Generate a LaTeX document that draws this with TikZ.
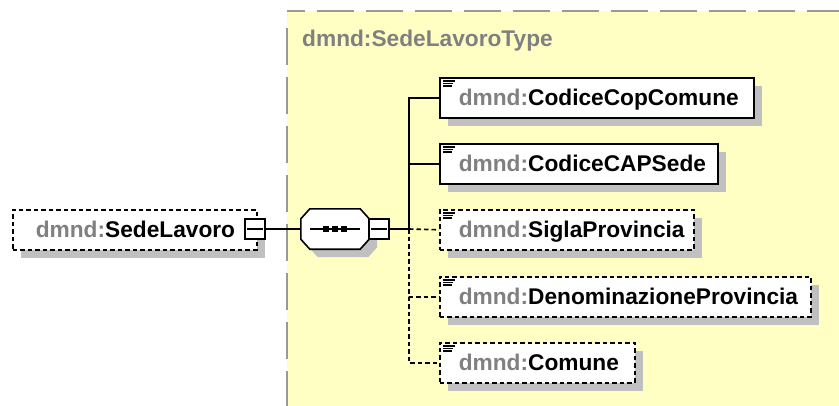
\documentclass[tikz,border=0pt]{standalone}
\usepackage{fontspec}
\setmainfont{Liberation Sans}
\usetikzlibrary{shadows,calc}
\definecolor{bgyellow}{RGB}{255,255,196}
\definecolor{framegray}{RGB}{153,153,153}
\definecolor{shadowgray}{RGB}{192,192,192}
\definecolor{prefixgray}{RGB}{128,128,128}
\newcommand\pfx{{\color{prefixgray}dmnd:}}
\newcommand\el[1]{\mbox{\pfx#1}}
\newcommand\docicon[1]{%
  \draw[iconline] ($(#1.north west)+(4,4)$) -- +(12,0);
  \draw[iconline] ($(#1.north west)+(4,6.5)$) -- +(10,0);
  \draw[iconline] ($(#1.north west)+(4,9)$) -- +(9,0);}
% octagon outline around node seq, offset by (#1,#2)
\newcommand\octpath[2]{%
  ($(seq.north west)+(9+#1,#2)$) -- ($(seq.north east)+(-9+#1,#2)$) --
  ($(seq.north east)+(#1,10+#2)$) -- ($(seq.south east)+(#1,-10+#2)$) --
  ($(seq.south east)+(-9+#1,#2)$) -- ($(seq.south west)+(9+#1,#2)$) --
  ($(seq.south west)+(#1,-10+#2)$) -- ($(seq.north west)+(#1,10+#2)$) -- cycle}
\begin{document}
\begin{tikzpicture}[x=1pt,y=-1pt,
  elembase/.style={rectangle, draw=black, line width=1.6pt, fill=white,
    anchor=north west, minimum height=40pt, inner ysep=0pt, inner xsep=19pt,
    text height=19pt, text depth=3pt, align=left,
    font=\fontsize{22.7}{26}\selectfont\bfseries,
    drop shadow={shadow xshift=8pt, shadow yshift=-8pt, fill=shadowgray, opacity=1}},
  mandatory/.style={elembase},
  optdash/.style={dash pattern=on 4.5pt off 3pt},
  optional/.style={elembase, optdash},
  minusbox/.style={rectangle, draw=black, line width=1.3pt, fill=white,
    minimum size=20pt, inner sep=0pt},
  seqbox/.style={rectangle, draw=none, minimum width=68pt, minimum height=40pt, inner sep=0pt},
  conn/.style={line width=1.6pt, draw=black},
  iconline/.style={line width=1.1pt, draw=black},
  minusline/.style={line width=1.3pt, draw=black},
  frame/.style={line width=2pt, draw=framegray, dash pattern=on 37pt off 12pt}
]
\useasboundingbox (0,0) rectangle (839,405);
% complex type frame
\fill[bgyellow] (287,11) rectangle (850,420);
\draw[frame, dash phase=19pt] (287,11) -- (850,11);
\draw[frame, dash phase=37pt] (287,16) -- (287,420);
\node[anchor=base west, inner sep=0pt, text=prefixgray,
  font=\fontsize{22.7}{26}\selectfont\bfseries] (title) at (302,46) {dmnd:SedeLavoroType};

% root element
\node[optional, inner xsep=23pt, text width=198pt] (root) at (12,209) {\el{SedeLavoro}};
\node[minusbox] (m0) at (255,229) {};
\draw[minusline] ([xshift=3pt]m0.west) -- ([xshift=-3pt]m0.east);

% sequence compositor
\node[seqbox] (seq) at (335,229) {};
\fill[shadowgray] \octpath{8}{8};
\draw[line width=1.6pt, fill=white] \octpath{0}{0};
\draw[line width=1.5pt] ([xshift=9pt]seq.west) -- ([xshift=-9pt]seq.east);
\foreach \dx in {-9,0,9}
  \fill ($(seq.center)+(\dx,0)$) +(-2.6,-2.6) rectangle +(2.6,2.6);
\node[minusbox] (m1) at (379,229) {};
\draw[minusline] ([xshift=3pt]m1.west) -- ([xshift=-3pt]m1.east);

% child elements
\node[mandatory, text width=276pt] (e1) at (439,77) {\el{CodiceCopComune}};
\node[mandatory, text width=240pt] (e2) at (439,143) {\el{CodiceCAPSede}};
\node[optional, text width=216pt] (e3) at (439,209) {\el{SiglaProvincia}};
\node[optional, text width=333pt] (e4) at (439,276) {\el{DenominazioneProvincia}};
\node[optional, text width=157pt] (e5) at (439,342) {\el{Comune}};
\foreach \n in {e1,e2,e3,e4,e5} {\docicon{\n}}

% connectors
\coordinate (bus) at (409,229);
\draw[conn] (m0.east) -- (seq.west);
\draw[conn] (m1.east) -- (bus);
\draw[conn] (bus) |- (e1.west);
\draw[conn] (bus) |- (e2.west);
\draw[conn, optdash] (bus) -- (e3.west);
\draw[conn, optdash] (bus) |- (e4.west);
\draw[conn, optdash] (bus) |- (e5.west);
\end{tikzpicture}
\end{document}
